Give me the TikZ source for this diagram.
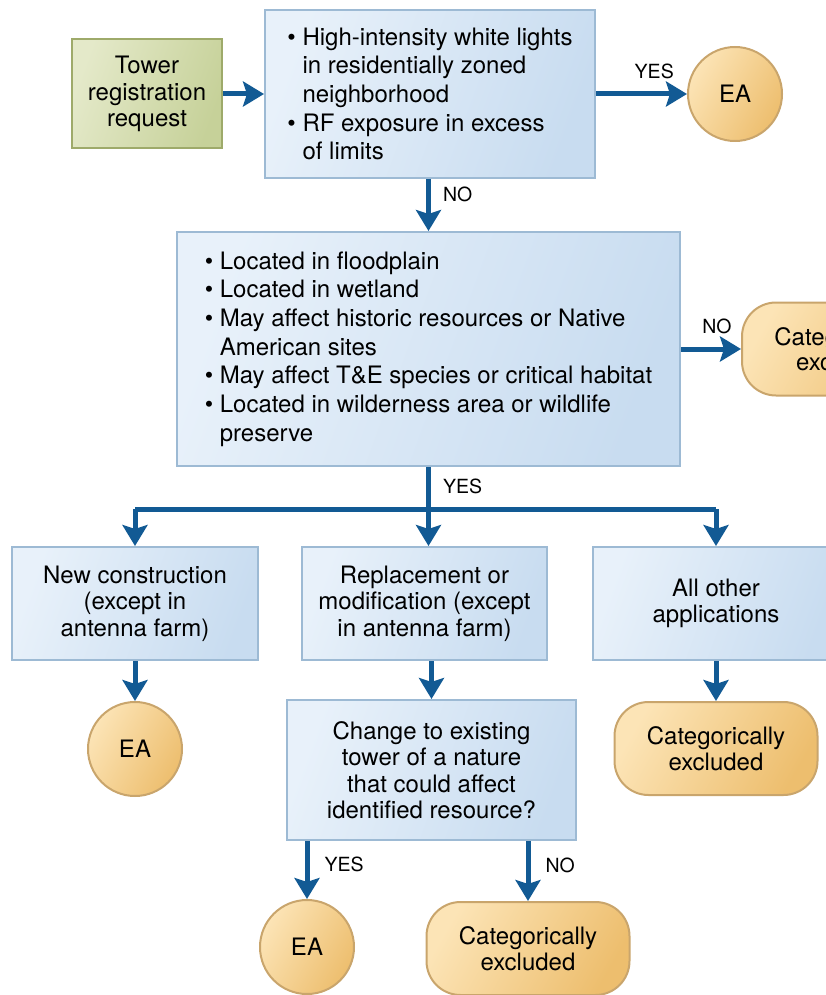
\documentclass[tikz,border=0pt]{standalone}
\usepackage{fontspec}
\setmainfont{TeX Gyre Heros}
\usetikzlibrary{arrows.meta, positioning, calc}

\definecolor{boxL}{HTML}{E8F1FA}
\definecolor{boxD}{HTML}{C8DCF0}
\definecolor{boxB}{HTML}{9DBAD4}
\definecolor{grnL}{HTML}{E4E9C9}
\definecolor{grnD}{HTML}{C6D199}
\definecolor{grnB}{HTML}{9EAA6A}
\definecolor{orgL}{HTML}{FCE4B6}
\definecolor{orgD}{HTML}{EDBE6E}
\definecolor{orgB}{HTML}{C9A56C}
\definecolor{arr}{HTML}{125A94}

\newcommand{\bul}{\textbullet\ }
\newcommand{\hng}{\phantom{\textbullet\ }}

\begin{document}
\begin{tikzpicture}[
      x=1pt, y=1pt,
      every node/.style={font=\fontsize{24}{26.5}\selectfont},
      proc/.style={
          rectangle,
          draw=boxB,
          line width=2pt,
          align=center,
          shade,
          left color=boxL,
          right color=boxD,
          shading angle=70
        },
      list/.style={
          proc,
          align=left,
          font=\fontsize{24}{28.7}\selectfont
        },
      start/.style={
          rectangle,
          draw=grnB,
          line width=2pt,
          align=center,
          minimum width=150pt,
          minimum height=109pt,
          shade,
          left color=grnL,
          right color=grnD,
          shading angle=70
        },
      term/.style={
          circle,
          draw=orgB,
          line width=2pt,
          minimum size=94pt,
          inner sep=0pt,
          shade,
          left color=orgL,
          right color=orgD,
          shading angle=60
        },
      excl/.style={
          rectangle,
          rounded corners=34pt,
          draw=orgB,
          line width=2pt,
          align=center,
          minimum width=203pt,
          minimum height=93pt,
          font=\fontsize{24}{25.5}\selectfont,
          shade,
          left color=orgL,
          right color=orgD,
          shading angle=60
        },
      arrow/.style={
          draw=arr,
          line width=5pt,
          -{Stealth[length=21pt, width=25pt, inset=4pt]}
        },
      lbl/.style={
          font=\fontsize{19.5}{22}\selectfont,
          text=black,
          inner sep=3pt
        }
    ]

    \useasboundingbox (0,0) rectangle (825,-995);

    % Nodes
    \node[list, minimum width=330pt, minimum height=168pt] (lights) at (430,-94)
        {\bul High-intensity white lights\\ \hng in residentially zoned\\ \hng neighborhood\\
         \bul RF exposure in excess\\ \hng of limits};
    \node[start, left=41pt of lights] (request) {Tower\\registration\\request};
    \node[term, right=91pt of lights] (ea1) {EA};
    \node[list, minimum width=503pt, minimum height=234pt, below=52pt of lights, xshift=-1.5pt] (sites)
        {\bul Located in floodplain\\ \bul Located in wetland\\
         \bul May affect historic resources or Native\\ \hng American sites\\
         \bul May affect T\&E species or critical habitat\\
         \bul Located in wilderness area or wildlife\\ \hng preserve};
    \node[excl, right=60pt of sites] (cx1) {Categorically\\excluded};

    \node[proc, minimum width=245pt, minimum height=113pt, below=79pt of sites, xshift=-4pt] (replace)
        {Replacement or\\modification (except\\in antenna farm)};
    \node[proc, minimum width=246pt, minimum height=113pt, left=42pt of replace] (newcons)
        {New construction\\(except in\\antenna farm)};
    \node[proc, minimum width=246pt, minimum height=113pt, right=44pt of replace] (other)
        {All other\\applications};

    \node[term, below=40pt of newcons] (ea2) {EA};
    \node[excl, below=40pt of other] (cx2) {Categorically\\excluded};
    \node[proc, minimum width=289pt, minimum height=140pt, below=38pt of replace, xshift=7pt] (change)
        {Change to existing\\tower of a nature\\that could affect\\identified resource?};
    \node[term, below=58pt of change, xshift=-124.5pt] (ea3) {EA};
    \node[excl, below=60pt of change, xshift=96.5pt] (cx3) {Categorically\\excluded};

    \coordinate (split) at ($(sites.south)+(0,-42pt)$);

    % Arrows
    \draw[arrow] (request) -- (lights);
    \draw[arrow] (lights) -- node[lbl, above=10pt, pos=0.64] {YES} (ea1);
    \draw[arrow] (lights.south -| sites.north) -- node[lbl, right=9pt, pos=0.3] {NO} (sites.north);
    \draw[arrow] (sites) -- node[lbl, above=10pt, pos=0.6] {NO} (cx1);
    \draw[arr, line width=5pt] (sites.south) -- node[lbl, right=9pt, pos=0.45] {YES} (split);
    \draw[arr, line width=5pt] (split -| newcons.north) -- (split -| other.north);
    \draw[arrow] (split -| newcons.north) -- (newcons.north);
    \draw[arrow] (split) -- (split |- replace.north);
    \draw[arrow] (split -| other.north) -- (other.north);
    \draw[arrow] (newcons) -- (ea2);
    \draw[arrow] (replace.south -| change.north) -- (change.north);
    \draw[arrow] (other) -- (cx2);
    \draw[arrow] (change.south -| ea3.north) -- node[lbl, right=12pt, pos=0.4] {YES} (ea3.north);
    \draw[arrow] (change.south -| cx3.north) -- node[lbl, right=12pt, pos=0.4] {NO} (cx3.north);

  \end{tikzpicture}
\end{document}
